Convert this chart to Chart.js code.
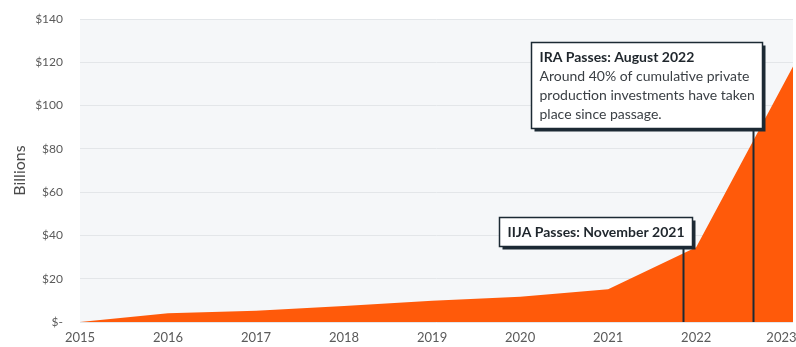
<!DOCTYPE html>
<html>
<head>
<meta charset="utf-8">
<title>Cumulative private production investments</title>
<script src="https://cdn.jsdelivr.net/npm/chart.js@4.4.1/dist/chart.umd.min.js"></script>
<style>
    html, body { margin: 0; padding: 0; background: #ffffff; }
    canvas { display: block; }
</style>
</head>
<body>
<canvas id="investChart" width="796" height="347"></canvas>
<script>
/**
 * ============================================================
 * DATA
 * ============================================================
 */

// the last point sits a little past the 2023 tick, where the picture ends
const years = [2015, 2016, 2017, 2018, 2019, 2020, 2021, 2022, 2023.1];
const investments = [0, 4.1, 5.2, 7.4, 9.8, 11.7, 15.1, 34.5, 118];

const yearTicks = [2015, 2016, 2017, 2018, 2019, 2020, 2021, 2022, 2023];
const yearTickLabels = ["2015", "2016", "2017", "2018", "2019", "2020", "2021", "2022", "2023*"];

const valueTicks = [0, 20, 40, 60, 80, 100, 120, 140];
const valueTickLabels = ["$-", "$20", "$40", "$60", "$80", "$100", "$120", "$140"];

// policy events (fractional year) and their call-out boxes
const eventDates = [2021.85, 2022.65];
const eventTitles = ["IIJA Passes: November 2021", "IRA Passes: August 2022"];
const eventNotes = [
    [],
    [
        "Around 40% of cumulative private",
        "production investments have taken",
        "place since passage."
    ]
];
const eventBoxTops = [48.5, 129.5]; // in $ billions, on the value axis

const FONT = "Lato, 'Open Sans', sans-serif";
const INK = "#1c2a34";

/**
 * ============================================================
 * PLUGINS
 * ============================================================
 */

const plotBackground = {
    id: "plotBackground",
    beforeDraw(chart) {
        const { ctx, chartArea: a } = chart;
        ctx.save();
        ctx.fillStyle = "#f5f7f9";
        ctx.fillRect(a.left, a.top, a.right - a.left, a.bottom - a.top);
        ctx.restore();
    }
};

const eventMarkers = {
    id: "eventMarkers",
    afterDatasetsDraw(chart) {
        const { ctx, chartArea: a, scales: { x, y } } = chart;
        const padX = 8;
        const padY = 5;
        const lineH = 19;

        eventDates.forEach((date, i) => {
            const lineX = Math.round(x.getPixelForValue(date)) + 0.5;
            const top = Math.round(y.getPixelForValue(eventBoxTops[i])) + 0.5;
            const lines = [eventTitles[i], ...eventNotes[i]];

            ctx.save();

            // measure the text to size the box
            let maxW = 0;
            lines.forEach((txt, j) => {
                ctx.font = (j === 0 ? "bold " : "") + "14px " + FONT;
                maxW = Math.max(maxW, ctx.measureText(txt).width);
            });
            const w = Math.round(maxW + padX * 2);
            const h = lines.length * lineH + padY * 2;
            const right = lineX + 9;
            const left = right - w;

            // vertical marker down to the axis
            ctx.strokeStyle = INK;
            ctx.lineWidth = 2;
            ctx.beginPath();
            ctx.moveTo(lineX, top + h);
            ctx.lineTo(lineX, a.bottom);
            ctx.stroke();

            // box with offset shadow
            ctx.fillStyle = INK;
            ctx.fillRect(left + 3, top + 3, w, h);
            ctx.fillStyle = "#ffffff";
            ctx.fillRect(left, top, w, h);
            ctx.lineWidth = 1.5;
            ctx.strokeRect(left, top, w, h);

            // text
            ctx.textBaseline = "middle";
            ctx.textAlign = "left";
            lines.forEach((txt, j) => {
                ctx.font = (j === 0 ? "bold " : "") + "14px " + FONT;
                ctx.fillStyle = j === 0 ? "#1f262c" : "#3a3f44";
                ctx.fillText(txt, left + padX, top + padY + lineH / 2 + j * lineH);
            });

            ctx.restore();
        });
    }
};

/**
 * ============================================================
 * CHART
 * ============================================================
 */

const canvas = document.getElementById("investChart");

new Chart(canvas, {
    type: "line",
    data: {
        datasets: [{
            data: years.map((yr, i) => ({ x: yr, y: investments[i] })),
            fill: "origin",
            backgroundColor: "#ff5a0a",
            borderWidth: 0,
            pointRadius: 0,
            tension: 0
        }]
    },
    options: {
        responsive: false,
        animation: false,
        devicePixelRatio: 1,
        layout: {
            autoPadding: false,
            padding: { top: 19, right: 3, left: 0, bottom: 0 }
        },
        plugins: {
            legend: { display: false },
            tooltip: { enabled: false }
        },
        scales: {
            x: {
                type: "linear",
                min: 2015,
                max: 2023.1,
                // let the last label run off the edge, as in the original
                afterFit(scale) {
                    scale.height = 25;
                    scale.paddingLeft = 0;
                    scale.paddingRight = 0;
                },
                grid: { display: false, drawTicks: false },
                border: { display: false },
                ticks: {
                    stepSize: 1,
                    includeBounds: false,
                    autoSkip: false,
                    maxRotation: 0,
                    padding: 8,
                    color: "#5a5a5a",
                    font: { family: FONT, size: 13 },
                    callback: (v) => {
                        const k = yearTicks.indexOf(v);
                        return k >= 0 ? yearTickLabels[k] : "";
                    }
                }
            },
            y: {
                min: 0,
                max: 140,
                afterFit(scale) {
                    scale.width = 80;
                    scale.paddingTop = 0;
                    scale.paddingBottom = 0;
                },
                border: { display: false },
                grid: { color: "#e3e6e9", drawTicks: false },
                ticks: {
                    stepSize: 20,
                    padding: 17,
                    color: "#5a5a5a",
                    font: { family: FONT, size: 12 },
                    callback: (v) => {
                        const k = valueTicks.indexOf(v);
                        return k >= 0 ? valueTickLabels[k] : "";
                    }
                },
                title: {
                    display: true,
                    text: "Billions",
                    color: "#4a4a4a",
                    font: { family: FONT, size: 16 },
                    padding: { top: 10 }
                }
            }
        }
    },
    plugins: [plotBackground, eventMarkers]
});
</script>
</body>
</html>
